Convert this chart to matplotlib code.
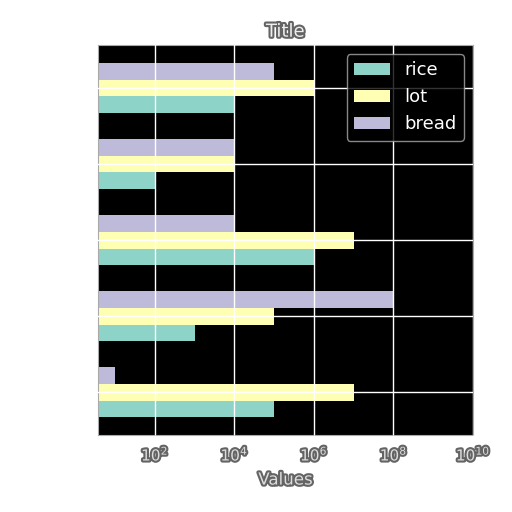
import numpy as np
import matplotlib
matplotlib.use("Agg")
import matplotlib.pyplot as plt
import matplotlib.patheffects as pe

# values (log x axis), group 0 is the bottom one
groups = [0, 1, 2, 3, 4]
rice = [1e5, 1e3, 1e6, 1e2, 1e4]
lot = [1e7, 1e5, 1e7, 1e4, 1e6]
bread = [1e1, 1e8, 1e4, 1e4, 1e5]

plt.style.use('dark_background')
glow = [pe.withStroke(linewidth=3, foreground='#222222', alpha=0.7)]

fig = plt.figure(figsize=(5.12, 5.12), dpi=100, facecolor='white')
ax = fig.add_axes([0.191, 0.150, 0.733, 0.762])
ax.set_facecolor('black')

y = np.array(groups)
h = 0.22
ax.barh(y - h, rice, height=h, color='#8dd3c7', label='rice')
ax.barh(y, lot, height=h, color='#ffffb3', label='lot')
ax.barh(y + h, bread, height=h, color='#bebada', label='bread')

ax.set_xscale('log')
ax.set_xlim(10**0.57, 1e10)
ax.set_xticks([1e2, 1e4, 1e6, 1e8, 1e10])
ax.set_yticks(groups)
ax.set_yticklabels([])
ax.grid(True, color='white', linewidth=1)
ax.set_axisbelow(False)
ax.minorticks_off()
for s in ax.spines.values():
    s.set_color('#aaaaaa')

for lab in ax.get_xticklabels():
    lab.set_color('#dddddd')
    lab.set_fontsize(11)
    lab.set_path_effects(glow)

ax.set_title('Title', color='#eeeeee', fontsize=13, path_effects=glow)
ax.set_xlabel('Values', color='#dddddd', fontsize=12, labelpad=5, path_effects=glow)

leg = ax.legend(loc='upper right', fontsize=13, facecolor='black',
                edgecolor='#aaaaaa', framealpha=0.8)

fig.savefig('out.png', dpi=100, facecolor='white')
